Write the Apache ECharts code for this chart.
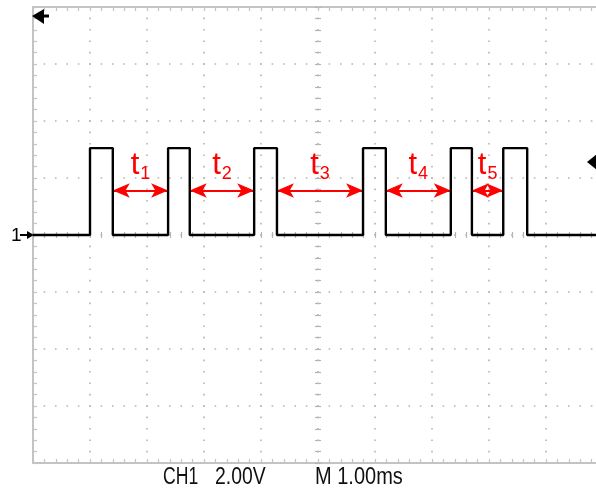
<!DOCTYPE html>
<html>
<head>
<meta charset="utf-8">
<script src="https://cdn.jsdelivr.net/npm/echarts@6/dist/echarts.min.js"></script>
<style>
html,body{margin:0;padding:0;background:#fff;overflow:hidden;}
#c{width:612px;height:491px;}
</style>
</head>
<body>
<div id="c"></div>
<script>
// ---- data (time in ms, voltage in V) ----
const edgeTimes = [1.00, 1.40, 2.37, 2.75, 3.88, 4.28, 5.79, 6.19, 7.33, 7.70, 8.25, 8.67];
const lowV = 0;
const highV = 3.05;
const endTime = 10;
const gapLabels = ['1', '2', '3', '4', '5'];
const arrowV = 1.56;
const bottomTexts = ['CH1', '2.00V', 'M 1.00ms'];

// build step waveform from edges
const wave = [[0, lowV]];
edgeTimes.forEach((t, i) => {
  const before = i % 2 === 0 ? lowV : highV;
  const after = i % 2 === 0 ? highV : lowV;
  wave.push([t, before]);
  wave.push([t, after]);
});
wave.push([endTime, lowV]);

// arrows between falling edge and next rising edge
const arrows = [];
for (let k = 0; k < gapLabels.length; k++) {
  const a = edgeTimes[2 * k + 1];
  const b = edgeTimes[2 * k + 2];
  arrows.push([
    { coord: [a, arrowV], label: { formatter: '{t|t}{s|' + gapLabels[k] + '}' } },
    { coord: [b, arrowV] }
  ]);
}

const grayC = '#c4c4c4';
const dotC = '#b4b4b4';
const dotted = { color: dotC, width: 1.6, type: [1.6, 9.8], dashOffset: 0.8 };

function borderX(pos) {
  return {
    type: 'value', min: 0, max: 10, interval: 1, position: pos,
    axisLine: { show: true, onZero: false, lineStyle: { color: grayC, width: 2 } },
    axisTick: { show: true, inside: true, length: 4, lineStyle: { color: grayC, width: 1.2 } },
    minorTick: { show: true, splitNumber: 5, length: 4, lineStyle: { color: grayC, width: 1.2 } },
    axisLabel: { show: false },
    splitLine: { show: pos === 'bottom', lineStyle: dotted },
    minorSplitLine: { show: false }
  };
}
function centerX(inside) {
  return {
    type: 'value', min: 0, max: 10, interval: 1, position: 'bottom',
    axisLine: { show: true, onZero: true, onZeroAxisIndex: 0, lineStyle: { opacity: 0 } },
    axisTick: { show: true, inside: inside, length: 3, lineStyle: { color: dotC, width: 1.2 } },
    minorTick: { show: true, splitNumber: 5, length: 3, lineStyle: { color: dotC, width: 1.2 } },
    axisLabel: { show: false },
    splitLine: { show: false }
  };
}
function centerY(inside) {
  return {
    type: 'value', min: -8, max: 8, interval: 2, position: 'left',
    axisLine: { show: true, onZero: true, onZeroAxisIndex: 3, lineStyle: { opacity: 0 } },
    axisTick: { show: true, inside: inside, length: 3, lineStyle: { color: dotC, width: 1.2 } },
    minorTick: { show: true, splitNumber: 5, length: 3, lineStyle: { color: dotC, width: 1.2 } },
    axisLabel: { show: false },
    splitLine: { show: false }
  };
}

const statusFont = '20px "Liberation Sans"';

const chart = echarts.init(document.getElementById('c'), null, { renderer: 'canvas' });
chart.setOption({
  animation: false,
  backgroundColor: '#ffffff',
  grid: { left: 33, top: 7, width: 570, height: 456, containLabel: false },
  xAxis: [
    borderX('bottom'),
    borderX('top'),
    centerX(true),
    { type: 'value', min: -5, max: 5, show: false },
    centerX(false)
  ],
  yAxis: [
    {
      type: 'value', min: -8, max: 8, interval: 2, position: 'left',
      axisLine: { show: true, onZero: false, lineStyle: { color: grayC, width: 2 } },
      axisTick: { show: true, inside: true, length: 4, lineStyle: { color: grayC, width: 1.2 } },
      minorTick: { show: true, splitNumber: 5, length: 4, lineStyle: { color: grayC, width: 1.2 } },
      axisLabel: { show: false },
      splitLine: { show: true, lineStyle: dotted }
    },
    centerY(true),
    centerY(false)
  ],
  series: [
    {
      type: 'line',
      xAxisIndex: 0, yAxisIndex: 0,
      data: wave,
      symbol: 'none',
      lineStyle: { color: '#000', width: 2.4 },
      z: 5,
      markLine: {
        silent: true,
        symbol: ['arrow', 'arrow'],
        symbolSize: [11, 17],
        lineStyle: { color: '#ff0000', width: 2, type: 'solid' },
        label: {
          show: true, position: 'middle', distance: 8,
          color: '#ff0000',
          rich: {
            t: { fontFamily: 'Liberation Sans', fontSize: 31, color: '#ff0000', lineHeight: 34, padding: [0, 0, 2, 0], verticalAlign: 'bottom' },
            s: { fontFamily: 'Liberation Sans', fontSize: 18, color: '#ff0000', lineHeight: 18, padding: [0, 0, 0, 1], verticalAlign: 'bottom' }
          }
        },
        emphasis: { disabled: true },
        data: arrows
      }
    }
  ],
  graphic: [
    // top-left reference arrow
    { type: 'polygon', shape: { points: [[32, 16], [44, 9], [44, 24]] }, style: { fill: '#000' }, z: 100 },
    { type: 'rect', shape: { x: 43, y: 14.5, width: 6, height: 3 }, style: { fill: '#000' }, z: 100 },
    // channel 1 ground marker
    { type: 'text', x: 11, y: 226, style: { text: '1', font: '19px "Liberation Sans"', fill: '#000' }, z: 100 },
    { type: 'polygon', shape: { points: [[34, 235], [27, 231], [27, 239]] }, style: { fill: '#000' }, z: 100 },
    { type: 'rect', shape: { x: 20, y: 234, width: 8, height: 2 }, style: { fill: '#000' }, z: 100 },
    // trigger level marker
    { type: 'polygon', shape: { points: [[587, 162], [597, 154], [597, 170]] }, style: { fill: '#000' }, z: 100 },
    // bottom status texts
    { type: 'text', x: 163, y: 465, scaleX: 0.88, scaleY: 1.22, style: { text: bottomTexts[0], font: statusFont, fill: '#111' } },
    { type: 'text', x: 215, y: 465, scaleX: 0.97, scaleY: 1.22, style: { text: bottomTexts[1], font: statusFont, fill: '#111' } },
    { type: 'text', x: 315, y: 465, scaleX: 1.0, scaleY: 1.22, style: { text: bottomTexts[2], font: statusFont, fill: '#111' } }
  ]
});
</script>
</body>
</html>
